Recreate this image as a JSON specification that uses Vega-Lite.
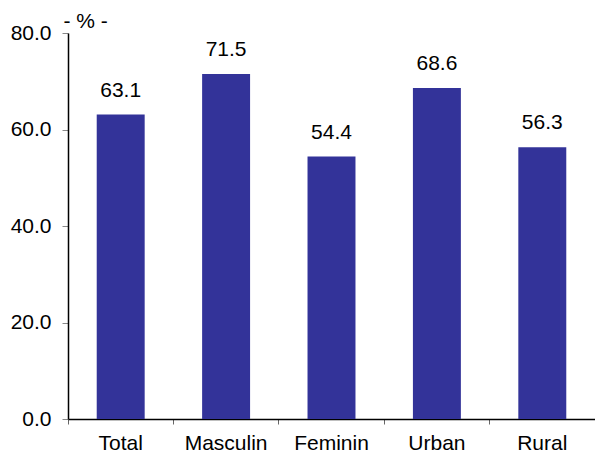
{
  "$schema": "https://vega.github.io/schema/vega-lite/v6.json",
  "width": 527,
  "height": 386,
  "autosize": "none",
  "padding": {"left": 68, "top": 33, "right": 0, "bottom": 34},
  "background": "white",
  "config": {"view": {"stroke": null}, "font": "Liberation Sans"},
  "data": {"values": [
    {"cat": "Total", "v": 63.1},
    {"cat": "Masculin", "v": 71.5},
    {"cat": "Feminin", "v": 54.4},
    {"cat": "Urban", "v": 68.6},
    {"cat": "Rural", "v": 56.3}
  ]},
  "encoding": {
    "x": {"field": "cat", "type": "nominal", "sort": null,
      "scale": {"paddingInner": 0, "paddingOuter": 0},
      "axis": {"title": null, "labelAngle": 0, "labelFontSize": 21, "labelColor": "black", "labelPadding": 8,
        "bandPosition": 0, "tickSize": 5, "tickColor": "#666666", "domainColor": "black", "domainWidth": 1.5, "grid": false}},
    "y": {"field": "v", "type": "quantitative",
      "scale": {"domain": [0, 80], "nice": false},
      "axis": {"values": [0, 20, 40, 60, 80], "format": ".1f", "labelFontSize": 21, "labelColor": "black", "labelPadding": 11,
        "tickSize": 6, "tickColor": "#888888", "domainColor": "black", "domainWidth": 1.5, "grid": false,
        "title": "- % -", "titleAngle": 0, "titleFontSize": 21, "titleFontWeight": "normal", "titleX": -5, "titleY": -2, "titleAlign": "left", "titleBaseline": "bottom", "titleColor": "black"}}
  },
  "layer": [
    {"mark": {"type": "bar", "width": {"band": 0.455}, "color": "#333399"}},
    {"mark": {"type": "text", "dy": -24, "fontSize": 21, "color": "black"}, "encoding": {"text": {"field": "v", "format": ".1f"}}}
  ]
}
